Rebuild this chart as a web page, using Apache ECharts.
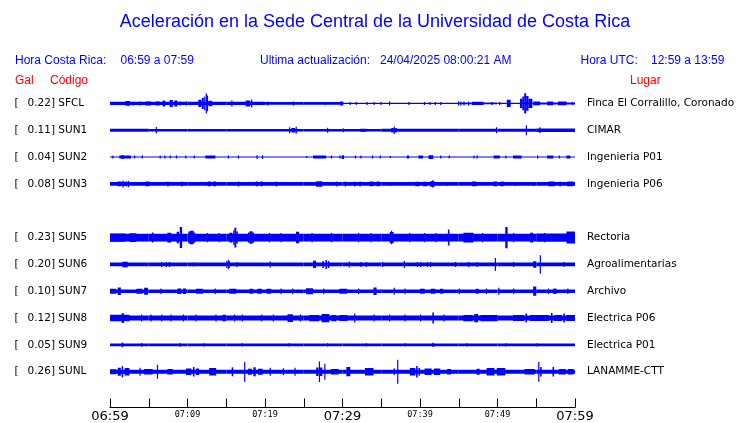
<!DOCTYPE html>
<html>
<head>
<meta charset="utf-8">
<script src="https://cdn.jsdelivr.net/npm/echarts@6/dist/echarts.min.js"></script>
<style>html,body{margin:0;padding:0;background:#fff}#c{width:740px;height:423px}</style>
</head>
<body>
<div id="c"></div>
<script>
// ---------------- DATA ----------------
const TITLE = 'Aceleración en la Sede Central de la Universidad de Costa Rica';
const HORA_CR = '06:59 a 07:59';
const ACTUALIZACION = '24/04/2025 08:00:21 AM';
const HORA_UTC = '12:59 a 13:59';

const CODES  = ['SFCL','SUN1','SUN2','SUN3','SUN5','SUN6','SUN7','SUN8','SUN9','SUNL'];
const GAL    = ['0.22','0.11','0.04','0.08','0.23','0.20','0.10','0.12','0.05','0.26'];
const PLACES = ['Finca El Corralillo, Coronado','CIMAR','Ingenieria P01','Ingenieria P06','Rectoria',
                'Agroalimentarias','Archivo','Electrica P06','Electrica P01','LANAMME-CTT'];
const ROWS   = [0,1,2,3,5,6,7,8,9,10];

// time axis (minutes after 06:59)
const TICK_MINUTES = [0,10,20,30,40,50,60];
const TICK_TEXT    = ['06:59','07:09','07:19','07:29','07:39','07:49','07:59'];
const MAJOR_TICKS  = ['06:59','07:29','07:59'];

// background noise level (Gal), one value per 5-minute block
const BASE_SFCL = [0.036,0.036,0.036,0.034,0.03,0.03,0.015,0.013,0.013,0.018,0.013,0.022];
const BASE_SUN1 = [0.03,0.028,0.028,0.028,0.028,0.028,0.028,0.03,0.03,0.03,0.03,0.036];
const BASE_SUN2 = [0.011,0.011,0.011,0.011,0.011,0.011,0.011,0.011,0.011,0.011,0.011,0.011];
const BASE_SUN3 = [0.039,0.039,0.039,0.039,0.039,0.039,0.039,0.039,0.039,0.039,0.039,0.039];
const BASE_SUN5 = [0.085,0.085,0.085,0.085,0.085,0.085,0.085,0.085,0.085,0.085,0.085,0.088];
const BASE_SUN6 = [0.041,0.041,0.041,0.041,0.041,0.041,0.041,0.041,0.041,0.041,0.041,0.041];
const BASE_SUN7 = [0.038,0.038,0.038,0.038,0.038,0.038,0.038,0.038,0.038,0.038,0.038,0.038];
const BASE_SUN8 = [0.055,0.055,0.055,0.055,0.055,0.055,0.055,0.055,0.055,0.055,0.055,0.055];
const BASE_SUN9 = [0.03,0.03,0.03,0.03,0.03,0.03,0.03,0.03,0.03,0.03,0.03,0.03];
const BASE_SUNL = [0.041,0.041,0.041,0.041,0.041,0.041,0.041,0.041,0.041,0.041,0.041,0.041];

// bursts: [start minute, end minute, half amplitude in Gal]
const EV_SFCL = [[2.0,2.6,0.05],[2.9,3.0,0.043],[3.8,3.9,0.043],[4.6,5.3,0.043],[5.9,6.4,0.043],[6.8,7.1,0.065],
 [7.7,8.1,0.075],[8.3,8.7,0.065],[9.0,9.1,0.043],[9.8,9.9,0.043],[11.4,11.8,0.08],[11.85,12.1,0.12],
 [12.15,12.3,0.15],[12.35,12.5,0.22],[12.5,12.65,0.17],[12.7,13.2,0.06],[15.65,15.8,0.065],[17.5,18.1,0.065],
 [18.2,18.35,0.086],[20.3,20.4,0.043],[23.6,23.7,0.043],[27.7,27.8,0.032],[29.7,30.1,0.043],[30.9,31.0,0.032],
 [31.7,31.8,0.032],[33.1,33.2,0.032],[34.0,34.1,0.032],[34.9,35.0,0.032],[36.0,36.1,0.043],[38.5,38.6,0.032],
 [40.5,40.6,0.032],[41.2,41.3,0.032],[41.9,42.0,0.032],[42.6,42.7,0.032],[44.9,45.0,0.043],[45.2,45.3,0.043],
 [45.6,45.7,0.043],[46.2,46.3,0.043],[46.7,48.2,0.036],[49.2,49.3,0.032],[50.2,50.3,0.032],[51.2,51.7,0.08],
 [52.9,53.2,0.1],[53.2,53.45,0.15],[53.45,53.7,0.22],[53.7,54.0,0.16],[54.0,54.5,0.1],[54.6,55.5,0.04],
 [56.4,57.2,0.04],[57.8,58.9,0.04],[59.6,59.7,0.032]];
const EV_SUN1 = [[5.9,6.0,0.071],[23.1,23.2,0.065],[23.4,23.9,0.05],[23.95,24.05,0.075],[28.0,28.1,0.054],
 [30.0,30.1,0.043],[32.3,33.1,0.032],[36.3,36.6,0.05],[36.6,36.75,0.08],[36.75,37.0,0.05],[49.8,49.9,0.065],
 [53.65,53.75,0.11],[55.4,55.5,0.065]];
const EV_SUN2 = [[0.3,0.4,0.032],[1.2,2.7,0.033],[1.5,1.75,0.043],[3.1,3.2,0.032],[4.1,4.2,0.032],[6.4,6.5,0.032],
 [7.0,7.1,0.032],[7.7,7.8,0.032],[8.5,8.6,0.032],[9.7,9.8,0.032],[10.8,10.9,0.032],[12.3,13.6,0.033],
 [15.2,15.3,0.032],[16.5,16.6,0.032],[18.9,19.0,0.04],[19.6,19.7,0.04],[25.3,25.4,0.022],[26.2,27.9,0.033],
 [28.5,28.6,0.032],[29.6,29.7,0.032],[29.9,30.2,0.04],[31.6,31.7,0.032],[32.3,32.4,0.032],[33.8,33.9,0.032],
 [34.8,34.9,0.032],[36.1,36.2,0.022],[38.3,38.6,0.032],[39.8,40.4,0.032],[41.1,41.7,0.04],[42.6,42.7,0.032],
 [43.7,43.8,0.032],[46.9,47.0,0.032],[47.3,47.4,0.032],[49.5,50.3,0.033],[51.0,51.1,0.032],[52.0,53.1,0.033],
 [55.1,55.2,0.032],[56.4,57.2,0.033],[57.9,58.0,0.032],[58.9,59.4,0.033]];
const EV_SUN3 = [[1.0,1.5,0.05],[1.6,1.7,0.075],[1.9,2.2,0.05],[2.3,2.4,0.071],[4.6,5.1,0.05],[7.4,7.5,0.054],[9.2,9.3,0.054],
 [12.6,13.0,0.05],[13.3,13.7,0.05],[16.5,16.6,0.054],[18.8,19.1,0.05],[19.4,19.7,0.05],[21.4,21.5,0.054],[26.6,27.4,0.06],[29.2,29.3,0.054],
 [30.3,30.4,0.054],[31.5,31.6,0.054],[32.2,32.3,0.054],[33.5,34.0,0.05],[34.4,34.8,0.05],[36.1,36.2,0.043],[39.4,39.9,0.048],
 [40.4,40.9,0.048],[41.3,41.9,0.06],[41.55,41.65,0.08],[43.4,43.5,0.043],[46.7,47.3,0.05],[49.5,50.0,0.05],[50.4,50.8,0.05],
 [52.2,52.3,0.043],[54.6,54.7,0.043],[56.6,57.4,0.05],[58.0,58.1,0.054],[59.0,59.8,0.05]];
const EV_SUN5 = [[0.0,2.0,0.09],[2.5,3.4,0.095],[5.4,5.6,0.108],[7.4,7.9,0.105],[8.6,8.9,0.125],[9.0,9.3,0.226],
 [10.1,10.3,0.13],[10.3,10.8,0.145],[10.8,11.0,0.11],[12.5,12.6,0.1],[14.0,14.1,0.1],[15.4,15.8,0.105],
 [15.9,16.05,0.16],[16.05,16.3,0.215],[16.3,16.5,0.13],[17.8,18.0,0.11],[18.0,18.4,0.135],[18.4,18.6,0.11],
 [20.5,20.6,0.1],[22.0,22.1,0.1],[24.0,24.4,0.125],[26.0,26.1,0.1],[28.5,28.6,0.1],[32.0,32.1,0.1],
 [33.6,33.7,0.1],[36.1,36.6,0.12],[36.25,36.4,0.145],[38.6,38.7,0.1],[40.5,40.6,0.1],[42.0,42.1,0.1],
 [43.6,43.8,0.172],[45.6,46.9,0.105],[48.0,48.1,0.1],[51.0,51.3,0.23],[52.0,52.1,0.1],[54.2,54.6,0.105],
 [56.0,56.1,0.1],[58.9,60.0,0.13]];
const EV_SUN6 = [[1.6,2.3,0.06],[6.6,6.7,0.054],[7.2,7.3,0.054],[7.6,7.7,0.054],[10.7,10.8,0.043],
 [15.0,15.15,0.075],[15.2,15.3,0.1],[15.3,15.45,0.075],[16.3,16.4,0.054],[20.6,20.7,0.065],[26.2,26.6,0.08],
 [27.4,27.6,0.075],[27.8,28.0,0.097],[28.1,28.3,0.075],[30.8,30.9,0.065],[32.3,32.4,0.054],[33.0,33.1,0.054],
 [35.1,35.2,0.054],[37.9,38.0,0.075],[39.6,39.7,0.054],[40.0,40.1,0.054],[40.9,41.0,0.054],[41.3,41.4,0.054],
 [44.5,44.6,0.054],[46.2,46.3,0.054],[47.3,47.4,0.054],[49.65,49.75,0.14],[52.0,52.1,0.054],[54.6,55.0,0.07],
 [55.45,55.55,0.2],[58.5,58.6,0.054]];
const EV_SUN7 = [[0.0,0.8,0.055],[1.0,1.4,0.08],[3.4,4.2,0.055],[4.4,4.9,0.075],[6.5,6.6,0.06],[8.7,9.2,0.06],[9.4,9.8,0.06],
 [11.1,12.0,0.055],[13.5,13.6,0.06],[15.4,16.3,0.055],[18.0,18.5,0.055],[19.0,19.6,0.055],[20.2,20.8,0.055],
 [22.0,22.1,0.06],[23.5,23.6,0.06],[25.3,26.2,0.065],[27.5,27.6,0.06],[29.6,30.6,0.055],[32.0,32.1,0.06],
 [34.0,34.4,0.08],[36.6,36.7,0.075],[38.0,38.1,0.06],[40.0,40.6,0.055],[41.4,42.0,0.055],[42.6,43.0,0.055],
 [45.0,45.1,0.06],[47.2,47.6,0.055],[48.5,48.6,0.06],[50.1,50.2,0.075],[52.0,52.1,0.06],[54.6,55.0,0.1],
 [56.5,56.6,0.06],[57.2,57.6,0.06],[59.0,59.1,0.06]];
const EV_SUN8 = [[0.0,2.5,0.07],[1.5,1.8,0.105],[4.0,4.1,0.075],[5.2,5.3,0.075],[6.6,6.7,0.075],[7.8,7.9,0.075],
 [9.4,9.5,0.075],[11.0,11.1,0.075],[13.6,13.7,0.075],[14.5,15.0,0.07],[16.0,16.1,0.075],[17.0,17.1,0.075],
 [19.5,19.6,0.075],[21.0,21.1,0.075],[22.9,23.6,0.085],[24.5,24.6,0.075],[25.7,27.0,0.068],[27.3,28.3,0.09],
 [28.6,29.2,0.068],[29.6,30.6,0.066],[31.5,31.6,0.097],[34.0,34.1,0.075],[36.0,36.1,0.075],[38.0,38.1,0.075],
 [40.0,40.1,0.075],[41.6,41.8,0.12],[43.0,43.1,0.075],[45.6,46.8,0.068],[47.0,47.5,0.09],[47.8,50.0,0.068],
 [52.0,53.4,0.064],[53.6,53.8,0.097],[54.2,56.6,0.064],[56.9,57.1,0.108],[57.3,58.3,0.064],[58.5,58.7,0.097],[58.9,60.0,0.066]];
const EV_SUN9 = [[1.5,1.7,0.05],[4.0,4.1,0.04],[9.0,9.1,0.04],[12.0,12.1,0.035],[17.0,17.1,0.035],
 [23.0,23.1,0.035],[28.0,28.1,0.035],[33.0,33.1,0.035],[38.0,38.1,0.035],[41.6,41.8,0.045],[46.0,46.1,0.035],
 [51.0,51.1,0.035],[55.0,55.1,0.035]];
const EV_SUNL = [[0.0,0.8,0.055],[1.0,1.4,0.085],[1.5,1.7,0.118],[1.9,2.5,0.08],[3.8,3.9,0.086],[4.4,5.5,0.06],[6.05,6.15,0.15],
 [7.4,8.1,0.06],[9.8,10.5,0.07],[10.7,10.9,0.105],[11.1,11.5,0.07],[12.8,13.7,0.08],[15.7,15.9,0.095],[17.3,17.45,0.215],
 [17.8,18.3,0.065],[18.5,18.8,0.095],[19.1,19.7,0.065],[20.6,20.7,0.086],[22.3,22.4,0.075],[23.8,23.9,0.086],[26.6,26.9,0.09],
 [26.95,27.05,0.22],[27.1,27.4,0.09],[27.65,27.75,0.175],[28.5,29.5,0.06],[30.5,31.0,0.1],[32.9,34.0,0.08],[36.6,36.7,0.075],
 [37.05,37.15,0.26],[38.7,39.4,0.08],[39.5,39.7,0.125],[39.8,40.0,0.08],[40.6,41.5,0.07],[41.8,42.6,0.07],[43.5,44.0,0.06],[47.3,47.7,0.065],
 [48.6,49.6,0.08],[49.9,51.0,0.08],[53.5,54.8,0.06],[55.25,55.35,0.215],[55.5,55.7,0.105],[57.1,57.3,0.105],[57.9,58.8,0.06],[59.1,59.8,0.06]];

const BASES  = [BASE_SFCL,BASE_SUN1,BASE_SUN2,BASE_SUN3,BASE_SUN5,BASE_SUN6,BASE_SUN7,BASE_SUN8,BASE_SUN9,BASE_SUNL];
const EVENTS = [EV_SFCL,EV_SUN1,EV_SUN2,EV_SUN3,EV_SUN5,EV_SUN6,EV_SUN7,EV_SUN8,EV_SUN9,EV_SUNL];

// ---------------- STYLE ----------------
const GAL_PER_ROW = 0.58;
const TRACE_COLOR = '#0000ff';
const BLUE = '#0000ff';
const RED = '#ff0000';

const chart = echarts.init(document.getElementById('c'), null, {renderer: 'canvas'});

function renderItem(params, api) {
  const row = api.value(3);
  const s = api.coord([api.value(0), row]);
  const e = api.coord([api.value(1), row]);
  const unit = api.size([0, 1])[1];
  const h = Math.max(api.value(2) / GAL_PER_ROW * unit, 0.5);
  return {
    type: 'rect',
    shape: {x: s[0], y: s[1] - h, width: Math.max(e[0] - s[0], 1.2), height: 2 * h},
    style: {fill: TRACE_COLOR}
  };
}

const series = CODES.map((code, i) => {
  const row = ROWS[i];
  const data = [];
  BASES[i].forEach((a, k) => data.push([k * 5, k * 5 + 5, a, row]));
  EVENTS[i].forEach(ev => data.push([ev[0], ev[1], ev[2], row]));
  return {
    type: 'custom', name: code, renderItem: renderItem,
    encode: {x: [0, 1], y: 3}, data: data, silent: true, clip: true
  };
});

chart.setOption({
  animation: false,
  grid: {left: 110, width: 465, top: 88.5, height: 320.5},
  xAxis: {
    type: 'value', min: 0, max: 60, interval: 5,
    axisLine: {show: true, onZero: false, lineStyle: {color: '#000', width: 1}},
    axisTick: {show: true, inside: true, length: 9, lineStyle: {color: '#000', width: 1}},
    splitLine: {show: false},
    axisLabel: {
      show: true, margin: 2, showMinLabel: true, showMaxLabel: true, hideOverlap: false,
      formatter: function (v) {
        const idx = TICK_MINUTES.indexOf(Math.round(v));
        if (idx < 0) return '';
        const t = TICK_TEXT[idx];
        return MAJOR_TICKS.indexOf(t) >= 0 ? '{big|' + t + '}' : '{small|' + t + '}';
      },
      rich: {
        big: {fontFamily: 'DejaVu Sans', fontSize: 13, color: '#000', lineHeight: 14},
        small: {fontFamily: 'DejaVu Sans Mono', fontSize: 8.5, color: '#000', lineHeight: 10, padding: [1, 0, 0, 0]}
      }
    }
  },
  yAxis: {type: 'value', inverse: true, min: -0.556, max: 11.333, show: false},
  series: series
});

// texts
const graphics = [];
function txt(x, y, text, opts) {
  graphics.push({
    type: 'text', x: x, y: y, silent: true,
    style: Object.assign({text: text, verticalAlign: 'middle', align: 'left'}, opts)
  });
}
const HEAD = {fontFamily: 'Liberation Sans', fontSize: 12, fill: BLUE};
txt(375, 22, TITLE, {fontFamily: 'Liberation Sans', fontSize: 18, fill: BLUE, align: 'center'});
txt(15, 61, 'Hora Costa Rica:', HEAD);
txt(120.5, 61, HORA_CR, HEAD);
txt(260, 61, 'Ultima actualización:', HEAD);
txt(380, 61, ACTUALIZACION, HEAD);
txt(580.5, 61, 'Hora UTC:', HEAD);
txt(651, 61, HORA_UTC, HEAD);
txt(15, 81, 'Gal', {fontFamily: 'Liberation Sans', fontSize: 12, fill: RED});
txt(50, 81, 'Código', {fontFamily: 'Liberation Sans', fontSize: 12, fill: RED});
txt(630, 81, 'Lugar', {fontFamily: 'Liberation Sans', fontSize: 12, fill: RED});

const LBL = {fontFamily: 'DejaVu Sans', fontSize: 10.5, fill: '#000'};
CODES.forEach((code, i) => {
  const y = chart.convertToPixel({gridIndex: 0}, [0, ROWS[i]])[1];
  txt(14.5, y, '[', LBL);
  txt(27.5, y, GAL[i] + '] ' + code, LBL);
  txt(587, y, PLACES[i], LBL);
});
chart.setOption({graphic: graphics});
</script>
</body>
</html>
